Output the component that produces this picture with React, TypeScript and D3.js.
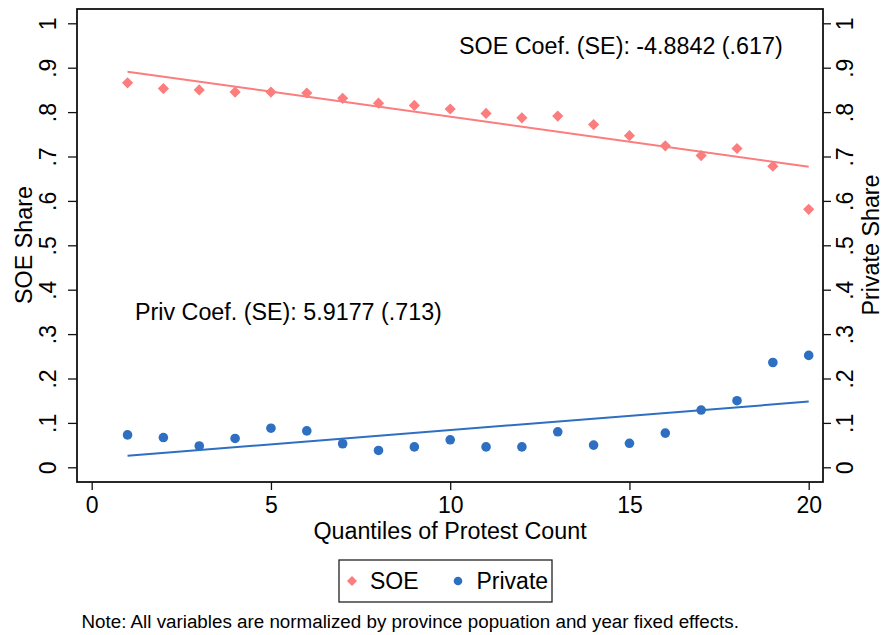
import * as d3 from 'd3';
import { useEffect, useRef } from 'react';

// Binned means by protest-count quantile
const quantiles = [1, 2, 3, 4, 5, 6, 7, 8, 9, 10, 11, 12, 13, 14, 15, 16, 17, 18, 19, 20];
const soeShare = [
  0.866, 0.853, 0.85, 0.845, 0.845, 0.843, 0.831, 0.82, 0.815, 0.807,
  0.797, 0.787, 0.791, 0.772, 0.747, 0.724, 0.702, 0.718, 0.678, 0.581,
];
const privateShare = [
  0.073, 0.067, 0.048, 0.065, 0.088, 0.082, 0.053, 0.038, 0.046, 0.062,
  0.046, 0.046, 0.08, 0.05, 0.054, 0.077, 0.129, 0.15, 0.236, 0.252,
];
// fitted lines (endpoints)
const soeFit = [
  { x: 1, y: 0.891 },
  { x: 20, y: 0.677 },
];
const privateFit = [
  { x: 1, y: 0.026 },
  { x: 20, y: 0.148 },
];

const xTicks = [0, 5, 10, 15, 20];
const yTicks = [0, 0.1, 0.2, 0.3, 0.4, 0.5, 0.6, 0.7, 0.8, 0.9, 1];
const yTickLabels = ['0', '.1', '.2', '.3', '.4', '.5', '.6', '.7', '.8', '.9', '1'];

const soeColor = '#fb7d7d';
const privColor = '#2e6fc2';
const font = '"Liberation Sans", Arial, sans-serif';

function App() {
  const svgRef = useRef<SVGSVGElement>(null);

  useEffect(() => {
    if (!svgRef.current) {
      return;
    }
    const svg = d3.select(svgRef.current);
    svg.selectAll('*').remove();

    const left = 77;
    const right = 823;
    const top = 9;
    const bottom = 482;

    const x = d3.scaleLinear().domain([0, 20]).range([91.7, 808.7]);
    const y = d3.scaleLinear().domain([0, 1]).range([467.3, 23.3]);

    // plot frame
    svg
      .append('rect')
      .attr('x', left)
      .attr('y', top)
      .attr('width', right - left)
      .attr('height', bottom - top)
      .attr('fill', 'none')
      .attr('stroke', '#111')
      .attr('stroke-width', 1.8);

    // left axis
    const yAxisL = d3
      .axisLeft(y)
      .tickValues(yTicks)
      .tickSize(9)
      .tickSizeOuter(0)
      .tickFormat((_, i) => yTickLabels[i]);
    const gl = svg.append('g').attr('transform', `translate(${left},0)`).call(yAxisL);
    gl.select('.domain').remove();
    gl.selectAll('.tick line').attr('stroke', '#111').attr('stroke-width', 1.3);
    gl.selectAll('.tick text')
      .attr('transform', 'rotate(-90)')
      .attr('x', 0)
      .attr('y', -21.5)
      .attr('dy', 0)
      .attr('text-anchor', 'middle')
      .attr('fill', '#000')
      .style('font-size', '23px')
      .style('font-family', font);

    // right axis
    const yAxisR = d3
      .axisRight(y)
      .tickValues(yTicks)
      .tickSize(8)
      .tickSizeOuter(0)
      .tickFormat((_, i) => yTickLabels[i]);
    const gr = svg.append('g').attr('transform', `translate(${right},0)`).call(yAxisR);
    gr.select('.domain').remove();
    gr.selectAll('.tick line').attr('stroke', '#111').attr('stroke-width', 1.3);
    gr.selectAll('.tick text')
      .attr('transform', 'rotate(-90)')
      .attr('x', 0)
      .attr('y', 30)
      .attr('dy', 0)
      .attr('text-anchor', 'middle')
      .attr('fill', '#000')
      .style('font-size', '23px')
      .style('font-family', font);

    // bottom axis
    const xAxis = d3.axisBottom(x).tickValues(xTicks).tickSize(8).tickSizeOuter(0);
    const gb = svg.append('g').attr('transform', `translate(0,${bottom})`).call(xAxis);
    gb.select('.domain').remove();
    gb.selectAll('.tick line').attr('stroke', '#111').attr('stroke-width', 1.3);
    gb.selectAll('.tick text')
      .attr('y', 31)
      .attr('dy', 0)
      .attr('fill', '#000')
      .style('font-size', '23px')
      .style('font-family', font);

    // axis titles
    svg
      .append('text')
      .attr('transform', `translate(32,245) rotate(-90)`)
      .attr('text-anchor', 'middle')
      .style('font-size', '23.3px')
      .style('font-family', font)
      .text('SOE Share');
    svg
      .append('text')
      .attr('transform', `translate(879,245) rotate(-90)`)
      .attr('text-anchor', 'middle')
      .style('font-size', '23.3px')
      .style('font-family', font)
      .text('Private Share');
    svg
      .append('text')
      .attr('x', 450)
      .attr('y', 539)
      .attr('text-anchor', 'middle')
      .style('font-size', '23.3px')
      .style('font-family', font)
      .text('Quantiles of Protest Count');

    // fitted lines
    const line = d3
      .line<{ x: number; y: number }>()
      .x((d) => x(d.x))
      .y((d) => y(d.y));
    svg
      .append('path')
      .datum(soeFit)
      .attr('fill', 'none')
      .attr('stroke', soeColor)
      .attr('stroke-width', 2)
      .attr('d', line);
    svg
      .append('path')
      .datum(privateFit)
      .attr('fill', 'none')
      .attr('stroke', privColor)
      .attr('stroke-width', 2)
      .attr('d', line);

    // markers
    const diamond = d3.symbol(d3.symbolDiamond2, 80);
    svg
      .append('g')
      .selectAll('path')
      .data(quantiles)
      .join('path')
      .attr('transform', (d, i) => `translate(${x(d)},${y(soeShare[i])})`)
      .attr('d', diamond)
      .attr('fill', soeColor);
    svg
      .append('g')
      .selectAll('circle')
      .data(quantiles)
      .join('circle')
      .attr('cx', (d) => x(d))
      .attr('cy', (_, i) => y(privateShare[i]))
      .attr('r', 4.8)
      .attr('fill', privColor);

    // annotations
    svg
      .append('text')
      .attr('x', 459)
      .attr('y', 54)
      .style('font-size', '23.3px')
      .style('font-family', font)
      .text('SOE Coef. (SE): -4.8842 (.617)');
    svg
      .append('text')
      .attr('x', 135)
      .attr('y', 319.5)
      .style('font-size', '23.3px')
      .style('font-family', font)
      .text('Priv Coef. (SE): 5.9177 (.713)');

    // legend
    const lg = svg.append('g');
    lg.append('rect')
      .attr('x', 339)
      .attr('y', 560)
      .attr('width', 213)
      .attr('height', 42)
      .attr('fill', '#fff')
      .attr('stroke', '#222')
      .attr('stroke-width', 1.3);
    lg.append('path')
      .attr('transform', 'translate(352,581)')
      .attr('d', d3.symbol(d3.symbolDiamond2, 65)())
      .attr('fill', soeColor);
    lg.append('text')
      .attr('x', 370)
      .attr('y', 589)
      .style('font-size', '23px')
      .style('font-family', font)
      .text('SOE');
    lg.append('circle').attr('cx', 458).attr('cy', 581).attr('r', 4.3).attr('fill', privColor);
    lg.append('text')
      .attr('x', 476.5)
      .attr('y', 589)
      .style('font-size', '23px')
      .style('font-family', font)
      .text('Private');

    // note
    svg
      .append('text')
      .attr('x', 81.5)
      .attr('y', 628)
      .style('font-size', '18.8px')
      .style('font-family', font)
      .text('Note: All variables are normalized by province popuation and year fixed effects.');
  }, []);

  return (
    <svg
      ref={svgRef}
      width={883}
      height={635}
      style={{ position: 'absolute', left: 0, top: 0, background: '#fff' }}
    />
  );
}

export default App;
